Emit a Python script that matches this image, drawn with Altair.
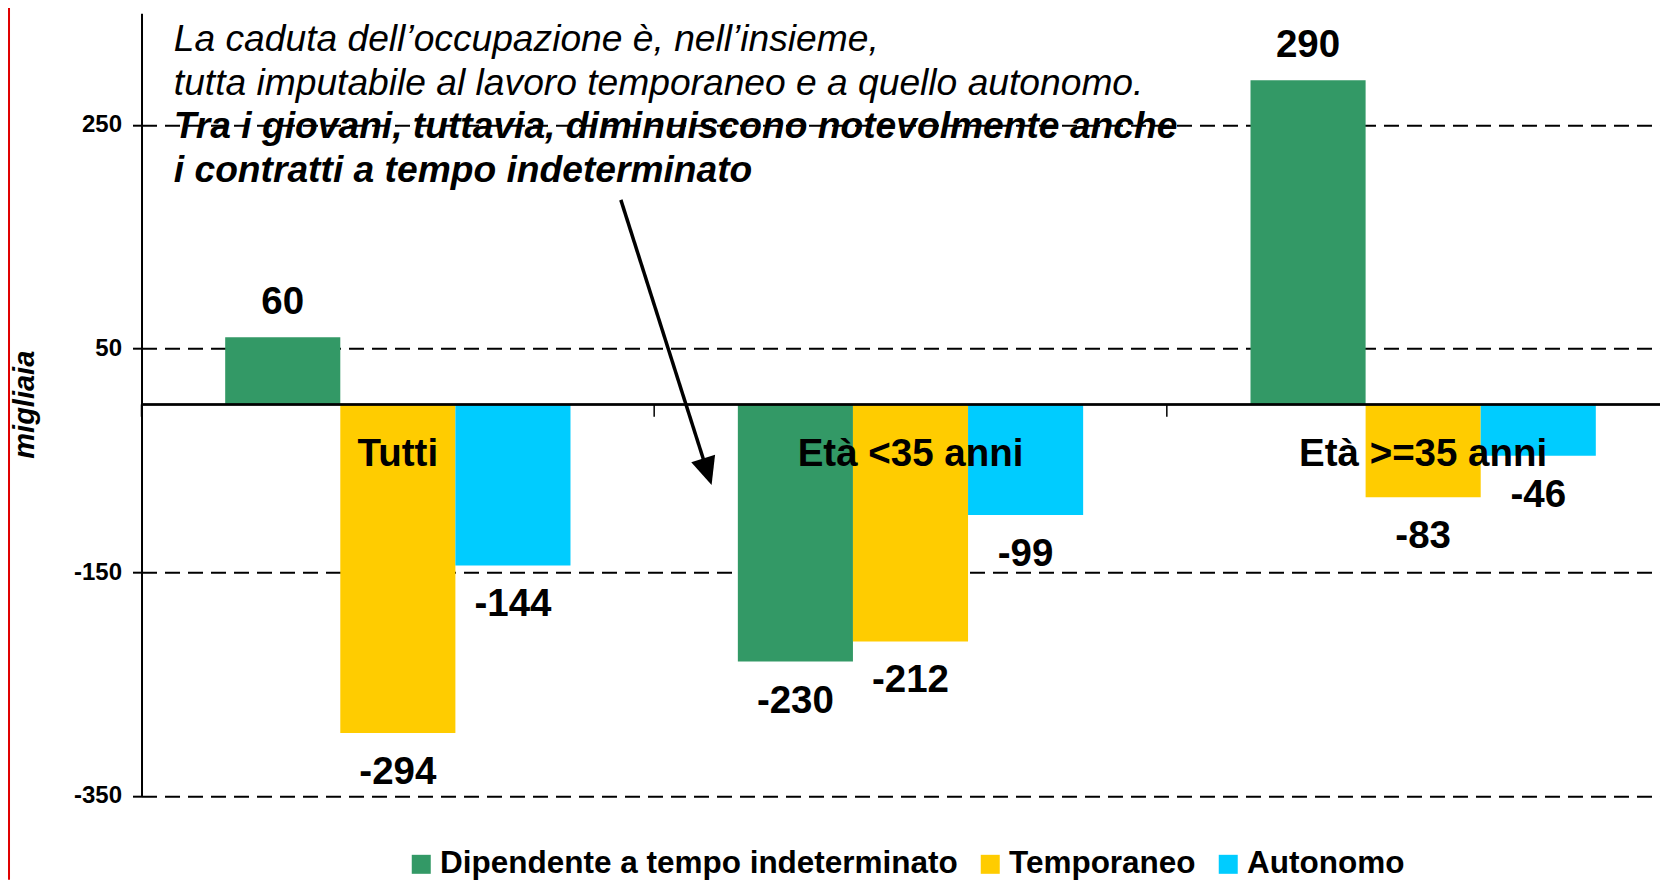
import math
import altair as alt
import pandas as pd

# ---------------- data ----------------
categories = ["Tutti", "Età <35 anni", "Età >=35 anni"]
series = ["Dipendente a tempo indeterminato", "Temporaneo", "Autonomo"]
colors = ["#339966", "#FFCC00", "#00CCFF"]
dipendente = [60, -230, 290]
temporaneo = [-294, -212, -83]
autonomo = [-144, -99, -46]
y_ticks = [250, 50, -150, -350]

note_regular = ["La caduta dell\u2019occupazione è, nell\u2019insieme,",
                "tutta imputabile al lavoro temporaneo e a quello autonomo."]
note_bold = ["Tra i giovani, tuttavia, diminuiscono notevolmente anche",
             "i contratti a tempo indeterminato"]
note_x = 0.063              # in category-group units
note_y = [316, 277, 238, 199]  # in data units (migliaia)
arrow_start = (0.935, 183)
arrow_end = (1.112, -72)

# ---------------- layout constants ----------------
FONT = "Liberation Sans"
W, H = 1538.0, 782.5
PAD_L, PAD_T, PAD_B = 133.5, 5.2, 84
PAD_R = -19.5   # the plot runs past the right edge of the page, as in the reference
Y_DOM = [-350, 350]
PX_X = W / 3.0
PX_Y = H / (Y_DOM[1] - Y_DOM[0])

rows = []
for i, c in enumerate(categories):
    for s, vals in zip(series, [dipendente, temporaneo, autonomo]):
        v = vals[i]
        rows.append({"cat": c, "series": s, "value": v, "label": str(v)})
df = pd.DataFrame(rows)
cat_df = pd.DataFrame({"cat": categories})

xs = alt.Scale(domain=categories, paddingInner=0, paddingOuter=0)
xos = alt.Scale(domain=series, paddingOuter=0.727, paddingInner=0)
ys = alt.Scale(domain=Y_DOM, nice=False, zero=False)

y_axis = alt.Axis(
    values=y_ticks, labelExpr="'' + datum.value",
    domainColor="black", domainWidth=2, tickColor="black", tickWidth=2,
    tickSize=9, labelPadding=11, labelFont=FONT, labelFontSize=24,
    labelFontWeight="bold", labelColor="black",
    grid=True, gridColor="black", gridDash=[15, 8], gridWidth=2,
    title="migliaia", titleFont=FONT, titleFontSize=29,
    titleFontStyle="italic", titleFontWeight="bold", titleColor="black",
    titleAngle=270, titleX=-117, titleY=391, titleAlign="center",
    titleBaseline="middle")


def Y(field):
    return alt.Y(field, scale=ys, axis=y_axis)


base = alt.Chart(df)

bars = base.mark_bar(strokeWidth=0).encode(
    x=alt.X("cat:N", scale=xs, axis=None, sort=categories),
    xOffset=alt.XOffset("series:N", scale=xos, sort=series),
    y=Y("value:Q"),
    y2=alt.datum(0),
    color=alt.Color("series:N", scale=alt.Scale(domain=series, range=colors),
                    legend=alt.Legend(
                        orient="none", legendX=264, legendY=835,
                        direction="horizontal", title=None, symbolType="square",
                        symbolSize=361, symbolStrokeWidth=0, symbolOpacity=1,
                        labelFont=FONT, labelFontSize=31.5, labelFontWeight="bold",
                        labelColor="black", labelOffset=3, columnPadding=16,
                        padding=0, labelLimit=1000)),
)

lab_enc = dict(
    x=alt.X("cat:N", scale=xs, axis=None, sort=categories),
    xOffset=alt.XOffset("series:N", scale=xos, sort=series),
    y=Y("value:Q"),
    text="label:N",
)
labels_pos = base.transform_filter("datum.value >= 0").mark_text(
    font=FONT, fontSize=38.5, fontWeight="bold", color="black",
    align="center", baseline="alphabetic", dy=-23).encode(**lab_enc)
labels_neg = base.transform_filter("datum.value < 0").mark_text(
    font=FONT, fontSize=38.5, fontWeight="bold", color="black",
    align="center", baseline="alphabetic", dy=51).encode(**lab_enc)

zero_line = alt.Chart(cat_df).mark_rule(color="black", strokeWidth=2).encode(
    y=alt.datum(0, scale=ys, axis=y_axis))

sep_ticks = alt.Chart(cat_df).mark_rule(color="black", strokeWidth=1.5).encode(
    x=alt.X("cat:N", scale=xs, axis=None, sort=categories, bandPosition=0),
    y=alt.datum(0, scale=ys, axis=y_axis),
    y2=alt.datum(-11),
)

cat_labels = alt.Chart(cat_df).mark_text(
    font=FONT, fontSize=38.5, fontWeight="bold", color="black",
    align="center", baseline="alphabetic", dy=62).encode(
    x=alt.X("cat:N", scale=xs, axis=None, sort=categories),
    y=alt.datum(0, scale=ys, axis=y_axis),
    text="cat:N",
)

main = alt.layer(bars, zero_line, sep_ticks, cat_labels, labels_pos, labels_neg)

# ---------------- annotation ----------------
axs = alt.Scale(domain=[0, 3], nice=False, zero=False)
note_df_r = pd.DataFrame({"ax": [note_x] * 2, "value": note_y[:2], "t": note_regular})
note_df_b = pd.DataFrame({"ax": [note_x] * 2, "value": note_y[2:], "t": note_bold})

note_r = alt.Chart(note_df_r).mark_text(
    font=FONT, fontSize=37.2, fontStyle="italic", color="black",
    align="left", baseline="alphabetic").encode(
    x=alt.X("ax:Q", scale=axs, axis=None),
    y=Y("value:Q"),
    text="t:N")
note_b = alt.Chart(note_df_b).mark_text(
    font=FONT, fontSize=37.2, fontStyle="italic", fontWeight="bold", color="black",
    align="left", baseline="alphabetic").encode(
    x=alt.X("ax:Q", scale=axs, axis=None),
    y=Y("value:Q"),
    text="t:N")

# arrow geometry (screen direction from data units)
dx_px = (arrow_end[0] - arrow_start[0]) * PX_X
dy_px = (arrow_start[1] - arrow_end[1]) * PX_Y
length = math.hypot(dx_px, dy_px)
shorten = 12.0
frac = (length - shorten) / length
shaft_end = (arrow_start[0] + (arrow_end[0] - arrow_start[0]) * frac,
             arrow_start[1] + (arrow_end[1] - arrow_start[1]) * frac)
angle = (360 - math.degrees(math.atan2(dx_px, dy_px))) % 360

arrow_df = pd.DataFrame({"ax": [arrow_start[0]], "value": [arrow_start[1]],
                         "ax2": [shaft_end[0]], "value2": [shaft_end[1]]})
head_df = pd.DataFrame({"ax": [arrow_end[0]], "value": [arrow_end[1]]})

shaft = alt.Chart(arrow_df).mark_rule(color="black", strokeWidth=3.5).encode(
    x=alt.X("ax:Q", scale=axs, axis=None),
    y=Y("value:Q"),
    x2="ax2:Q", y2="value2:Q")
head = alt.Chart(head_df).mark_point(
    shape="M0,0L-0.9,-2L0.9,-2Z", size=772, filled=True, opacity=1,
    color="black", strokeWidth=0, angle=angle).encode(
    x=alt.X("ax:Q", scale=axs, axis=None),
    y=Y("value:Q"))

# decorative red edge line
edge = alt.Chart(cat_df.head(1)).mark_rule(color="#e00000", strokeWidth=2).encode(
    x=alt.value(-PAD_L + 1), y=alt.value(-PAD_T), y2=alt.value(H + PAD_B))

annot = alt.layer(note_r, note_b, shaft, head, edge)

chart = alt.layer(main, annot).resolve_scale(x="independent").properties(
    width=W, height=H,
    autosize=alt.AutoSizeParams(type="none"),
    padding={"left": PAD_L, "top": PAD_T, "right": PAD_R, "bottom": PAD_B},
    background="white",
).configure_view(stroke=None)

chart.save("out.html", embed_options={"renderer": "svg", "actions": False})
